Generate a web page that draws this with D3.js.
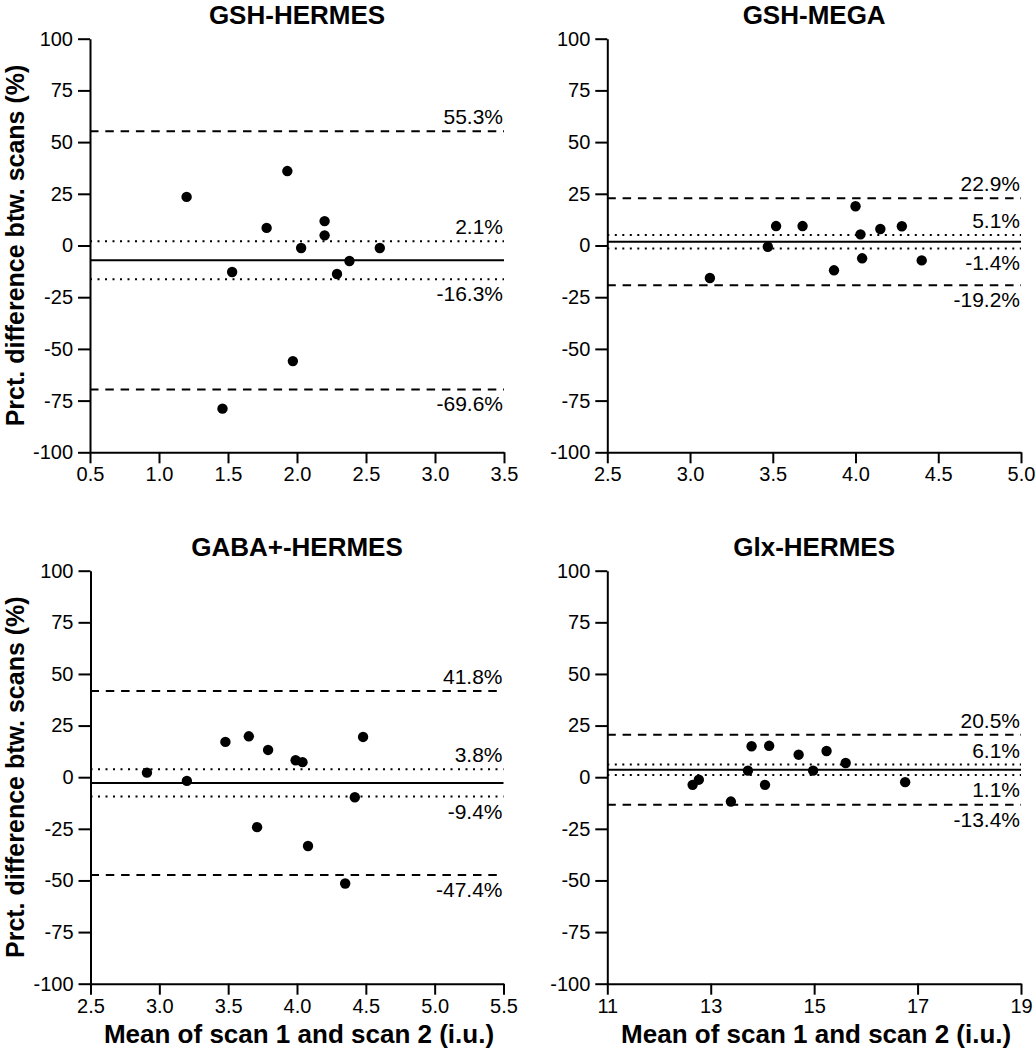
<!DOCTYPE html>
<html><head><meta charset="utf-8">
<script src="https://cdn.jsdelivr.net/npm/d3@7"></script>
<style>
body{margin:0;background:#fff;}
svg{display:block;}
text{font-family:"Liberation Sans",Arial,Helvetica,sans-serif;fill:#000;}
</style>
</head><body>
<svg id="chart" width="1036" height="1050"></svg>
<script>
// ---------- data ----------
const titles = ["GSH-HERMES", "GSH-MEGA", "GABA+-HERMES", "Glx-HERMES"];
const xDomains = [[0.5, 3.5], [2.5, 5.0], [2.5, 5.5], [11, 19]];
const xTickValues = [
  [0.5, 1.0, 1.5, 2.0, 2.5, 3.0, 3.5],
  [2.5, 3.0, 3.5, 4.0, 4.5, 5.0],
  [2.5, 3.0, 3.5, 4.0, 4.5, 5.0, 5.5],
  [11, 13, 15, 17, 19]
];
const yTickValues = [100, 75, 50, 25, 0, -25, -50, -75, -100];

const gshHermesMean = [1.20, 1.46, 1.53, 1.78, 1.93, 1.97, 2.03, 2.20, 2.20, 2.29, 2.38, 2.60];
const gshHermesDiff = [23.5, -78.9, -12.8, 8.5, 36.0, -55.9, -1.2, 11.8, 4.9, -13.8, -7.5, -1.2];

const gshMegaMean = [3.12, 3.47, 3.52, 3.68, 3.87, 4.00, 4.03, 4.04, 4.15, 4.28, 4.40];
const gshMegaDiff = [-15.7, -0.6, 9.4, 9.4, -12.0, 19.0, 5.4, -6.2, 8.0, 9.3, -7.2];

const gabaHermesMean = [2.91, 3.20, 3.48, 3.65, 3.71, 3.79, 3.99, 4.04, 4.08, 4.35, 4.42, 4.48];
const gabaHermesDiff = [2.2, -1.8, 17.1, 19.8, -24.2, 13.2, 8.2, 7.3, -33.3, -51.5, -9.7, 19.5];

const glxHermesMean = [12.65, 12.77, 13.39, 13.72, 13.79, 14.05, 14.13, 14.70, 14.98, 15.24, 15.61, 16.76];
const glxHermesDiff = [-3.7, -1.2, -11.8, 3.2, 15.0, -3.7, 15.2, 10.9, 3.2, 12.7, 6.9, -2.4];

const bias     = [-7.1, 1.85, -2.8, 3.6];
const loaUpper = [55.3, 22.9, 41.8, 20.5];
const ciUpper  = [2.1, 5.1, 3.8, 6.1];
const ciLower  = [-16.3, -1.4, -9.4, 1.1];
const loaLower = [-69.6, -19.2, -47.4, -13.4];

const seriesX = [gshHermesMean, gshMegaMean, gabaHermesMean, glxHermesMean];
const seriesY = [gshHermesDiff, gshMegaDiff, gabaHermesDiff, glxHermesDiff];

const xLabel = "Mean of scan 1 and scan 2 (i.u.)";
const yLabel = "Prct. difference btw. scans (%)";

// ---------- layout ----------
const panels = [
  {x0: 90,    x1: 504,  y0: 38.7,  y1: 452.3, ylab: true,  xlab: false},
  {x0: 607.3, x1: 1021, y0: 38.7,  y1: 452.3, ylab: false, xlab: false},
  {x0: 90.5,  x1: 503.5,y0: 570.7, y1: 983.7, ylab: true,  xlab: true},
  {x0: 607.3, x1: 1021, y0: 570.7, y1: 983.7, ylab: false, xlab: true}
];

const svg = d3.select("#chart");

panels.forEach((p, i) => {
  const g = svg.append("g");
  const x = d3.scaleLinear().domain(xDomains[i]).range([p.x0, p.x1]);
  const y = d3.scaleLinear().domain([-100, 100]).range([p.y1, p.y0]);

  // reference lines
  const lines = [
    {v: loaUpper[i], dash: "8.5,6.8", w: 2},
    {v: ciUpper[i],  dash: "2,5.5",   w: 2},
    {v: bias[i],     dash: null,      w: 2},
    {v: ciLower[i],  dash: "2,5.5",   w: 2},
    {v: loaLower[i], dash: "8.5,6.8", w: 2}
  ];
  g.selectAll("line.ref").data(lines).enter().append("line")
    .attr("class", "ref")
    .attr("x1", x(xDomains[i][0])).attr("x2", x(xDomains[i][1]))
    .attr("y1", d => y(d.v)).attr("y2", d => y(d.v))
    .attr("stroke", "#000").attr("stroke-width", d => d.w)
    .attr("stroke-dasharray", d => d.dash);

  // line labels
  const labs = [
    {v: loaUpper[i], above: true},
    {v: ciUpper[i],  above: true},
    {v: ciLower[i],  above: false},
    {v: loaLower[i], above: false}
  ];
  g.selectAll("text.reflab").data(labs).enter().append("text")
    .attr("class", "reflab")
    .attr("x", x(xDomains[i][1]) - 1)
    .attr("y", d => y(d.v) + (d.above ? -7 : 22))
    .attr("text-anchor", "end")
    .attr("font-size", 21)
    .text(d => d.v.toFixed(1) + "%");

  // axes
  const yAxis = d3.axisLeft(y).tickValues(yTickValues).tickSize(12).tickSizeOuter(0)
    .tickPadding(5).tickFormat(d => String(d));
  const ya = g.append("g").attr("transform", `translate(${p.x0},0)`).call(yAxis);

  const xFmt = i === 3 ? (d => String(d)) : (d => d.toFixed(1));
  const xAxis = d3.axisBottom(x).tickValues(xTickValues[i]).tickSize(11).tickSizeOuter(0)
    .tickPadding(4).tickFormat(xFmt);
  const xa = g.append("g").attr("transform", `translate(0,${p.y1})`).call(xAxis);

  [ya, xa].forEach(a => {
    a.select(".domain").attr("stroke", "#000").attr("stroke-width", 2);
    a.selectAll(".tick line").attr("stroke", "#000").attr("stroke-width", 2);
    a.selectAll(".tick text").attr("font-size", 20)
      .attr("font-family", '"Liberation Sans",Arial,Helvetica,sans-serif').attr("fill", "#000");
  });

  // points
  g.selectAll("circle").data(seriesX[i].map((v, k) => [v, seriesY[i][k]])).enter()
    .append("circle")
    .attr("cx", d => x(d[0])).attr("cy", d => y(d[1]))
    .attr("r", 5.2).attr("fill", "#000");

  // title
  g.append("text")
    .attr("x", (p.x0 + p.x1) / 2).attr("y", p.y0 - 15)
    .attr("text-anchor", "middle").attr("font-size", 26).attr("font-weight", "bold")
    .text(titles[i]);

  if (p.ylab) {
    g.append("text")
      .attr("transform", `translate(24,${(p.y0 + p.y1) / 2}) rotate(-90)`)
      .attr("text-anchor", "middle").attr("font-size", 25).attr("font-weight", "bold")
      .text(yLabel);
  }
  if (p.xlab) {
    g.append("text")
      .attr("x", (p.x0 + p.x1) / 2 + 2).attr("y", p.y1 + 59)
      .attr("text-anchor", "middle").attr("font-size", 26).attr("font-weight", "bold")
      .text(xLabel);
  }
});
</script>
</body></html>
